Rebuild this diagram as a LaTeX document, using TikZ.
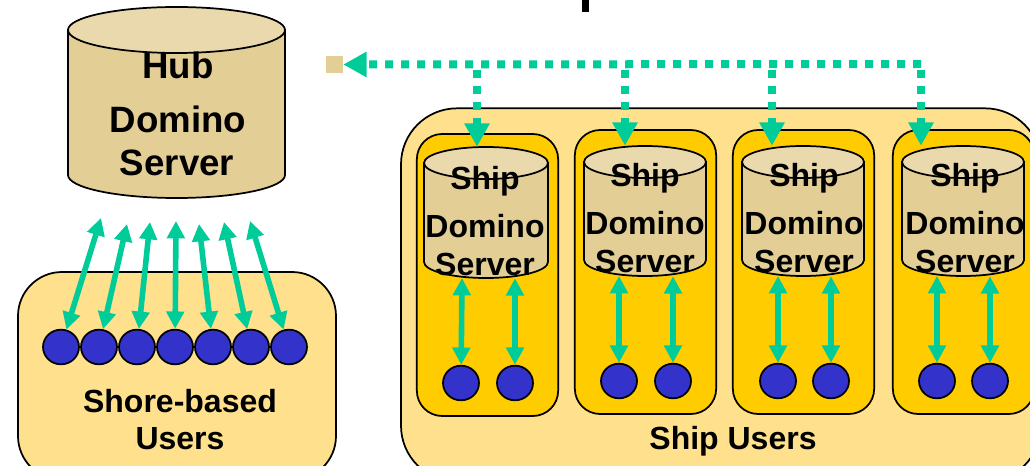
\documentclass[tikz,border=0pt]{standalone}
\usepackage{fontspec}
\setmainfont{Liberation Sans}
\usetikzlibrary{arrows.meta,shapes.geometric}
\definecolor{tanbody}{HTML}{E3CF96}
\definecolor{tantop}{HTML}{EAD9AC}
\definecolor{paleback}{HTML}{FFE08C}
\definecolor{goldback}{HTML}{FFCC00}
\definecolor{userblue}{HTML}{3333CC}
\definecolor{linkgreen}{HTML}{00CC99}
\tikzset{
  outlined/.style={draw=black,line width=1.3pt},
  group/.style={outlined,rectangle,fill=#1,inner sep=0pt},
  user/.style={outlined,ellipse,fill=userblue,inner sep=0pt,minimum width=27pt,minimum height=26pt},
  link/.style={linkgreen,line width=4.2pt,{Triangle[width=13pt,length=13pt]}-{Triangle[width=13pt,length=13pt]}},
  dotlink/.style={linkgreen,line width=6pt,dash pattern=on 6pt off 6pt,-{Triangle[width=18pt,length=17.5pt]}},
  label/.style={font=\bfseries\fontsize{24}{28}\selectfont,inner sep=0pt},
  hublabel/.style={font=\bfseries\fontsize{27.5}{32}\selectfont,inner sep=0pt},
}
% name, left, right, top, bottom, end height
\newcommand{\drumat}[6]{
  \node[inner sep=0pt,minimum width={(#3-#2)*0.75pt},minimum height={(#5-#4)*0.75pt}] (#1) at ({(#2+#3)/2},{(#4+#5)/2}) {};
  \draw[outlined,fill=tanbody] (#2,#4+#6) -- (#2,#5-#6) arc[start angle=180,end angle=0,x radius={(#3-#2)/2},y radius=#6] -- (#3,#4+#6) -- cycle;
  \draw[outlined,fill=tantop] ({(#2+#3)/2},#4+#6) ellipse[x radius={(#3-#2)/2},y radius=#6];
}
\begin{document}
\begin{tikzpicture}[x=0.75pt,y=-0.75pt]  % ------ hub and ships ------
  \clip (0,0) rectangle (1030,466);
  \fill[white] (0,0) rectangle (1030,466);
  \fill[black] (582,0) rectangle (589,12);

  % hub
  \drumat{hub}{68}{285}{7}{198}{23}
  \node[hublabel] (hubA) at (178,65) {Hub};
  \node[hublabel] (hubB) at (178,119) {Domino};
  \node[hublabel] (hubC) at (177,163) {Server};

  % shore-based users
  \node[group=paleback,rounded corners=33pt,minimum width=238.5pt,minimum height=156pt] (shore) at (177,376) {};
  \foreach \n/\ux/\tx/\ty in {1/61/101/218,2/99/127/224,3/137/150/222,4/175/176/221,5/213/199/224,6/251/224/222,7/289/250/221}{
    \node[user] (s\n) at (\ux,347) {};
    \coordinate (st\n) at (\tx,\ty);
    \draw[link] (st\n) -- (s\n);
  }
  \node[label] (shoreA) at (180,401) {Shore-based};
  \node[label] (shoreB) at (180,439) {Users};

  % ships
  \node[group=paleback,rounded corners=42pt,minimum width=480pt,minimum height=280pt] (fleet) at (721,295) {};
  \node[label] (fleetA) at (733,441) {Ship Users};

  \node[fill=tanbody,minimum size=12.75pt,inner sep=0pt] (port) at (334.5,64.5) {};
  \coordinate (b4) at (921,64);
  \draw[dotlink] (b4) -- (port.east);

  \foreach \n/\bx/\by/\bh/\cl/\cr/\ct/\cb/\ta/\ax/\bb/\uy/\lx/\ly in {
      1/487.5/275/211.5/424/548/147/278/462/461/515/383/485/181,
      2/645.5/272/213/584/706/146/276/619/619/673/381/645/178,
      3/803.5/272/213/742/864/146/276/778/778/831/381/804/178,
      4/963.5/272/213/902/1024/146/276/937/937/990/381/965/178}{
    \node[group=goldback,rounded corners=19pt,minimum width=106pt,minimum height=\bh pt] (box\n) at (\bx,\by) {};
    \drumat{ship\n}{\cl}{\cr}{\ct}{\cb}{16}
    \node[label] at (\lx,\ly) (shipA\n) {Ship};
    \node[label] at (\lx,\ly+45) (shipB\n) {Domino};
    \node[label] at (\lx,\ly+83) (shipC\n) {Server};
    \node[user] (u\n a) at (\ax,\uy) {};
    \node[user] (u\n b) at (\bb,\uy) {};
    \coordinate (t\n) at (\ta,\cb);
    \draw[link] (t\n) -- (u\n a);
    \draw[link] (u\n b |- ship\n.south) -- (u\n b);
  }

  % links to the hub port
  \foreach \n/\vx in {1/477,2/625,3/772,4/921}{
    \coordinate (d\n) at (\vx,70);
    \draw[dotlink] (d\n) -- (d\n |- ship\n.north);
  }
\end{tikzpicture}
\end{document}
